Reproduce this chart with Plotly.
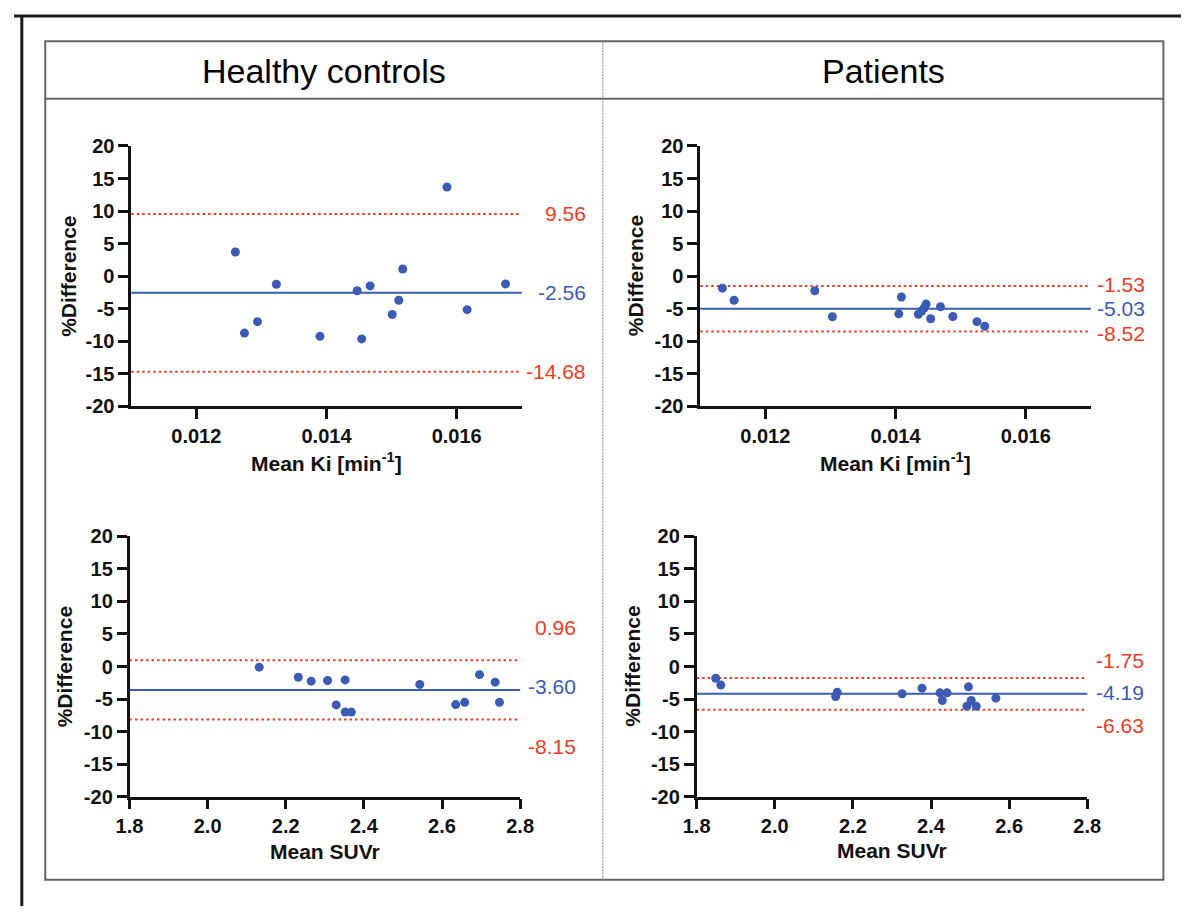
import plotly.graph_objects as go

# ---------------- data ----------------
# Healthy controls, Ki
hc_ki_x = [0.01260, 0.01274, 0.01294, 0.01323, 0.01390, 0.01447, 0.01454, 0.01467,
           0.01501, 0.01511, 0.01517, 0.01585, 0.01616, 0.01675]
hc_ki_y = [3.7, -8.75, -7.0, -1.25, -9.25, -2.25, -9.65, -1.5,
           -5.9, -3.7, 1.1, 13.7, -5.15, -1.2]
hc_ki_stats = [9.56, -2.56, -14.68]          # upper LoA, mean, lower LoA

# Patients, Ki
pt_ki_x = [0.01134, 0.01152, 0.01276, 0.01303, 0.01405, 0.01409, 0.01435, 0.01440,
           0.01444, 0.01447, 0.01454, 0.01469, 0.01488, 0.01525, 0.01537]
pt_ki_y = [-1.85, -3.7, -2.25, -6.25, -5.8, -3.2, -5.85, -5.35,
           -4.9, -4.3, -6.55, -4.7, -6.2, -7.0, -7.7]
pt_ki_stats = [-1.53, -5.03, -8.52]

# Healthy controls, SUVr
hc_suvr_x = [2.132, 2.232, 2.265, 2.307, 2.352, 2.329, 2.352, 2.368,
             2.543, 2.635, 2.658, 2.696, 2.736, 2.747]
hc_suvr_y = [-0.1, -1.65, -2.25, -2.15, -2.05, -5.9, -7.0, -7.0,
             -2.75, -5.85, -5.5, -1.25, -2.4, -5.5]
hc_suvr_stats = [0.96, -3.60, -8.15]

# Patients, SUVr
pt_suvr_x = [1.849, 1.862, 2.160, 2.156, 2.326, 2.377, 2.423, 2.429,
             2.441, 2.496, 2.492, 2.503, 2.516, 2.566]
pt_suvr_y = [-1.8, -2.85, -3.95, -4.6, -4.19, -3.32, -4.04, -5.22,
             -4.04, -3.12, -6.11, -5.22, -6.11, -4.86]
pt_suvr_stats = [-1.75, -4.19, -6.63]

ki_range = [0.011, 0.017]
ki_ticks = [0.012, 0.014, 0.016]
ki_ticklabels = ["0.012", "0.014", "0.016"]
suvr_range = [1.8, 2.8]
suvr_ticks = [1.8, 2.0, 2.2, 2.4, 2.6, 2.8]
suvr_ticklabels = ["1.8", "2.0", "2.2", "2.4", "2.6", "2.8"]
y_range = [-20, 20]
y_ticks = [-20, -15, -10, -5, 0, 5, 10, 15, 20]
y_ticklabels = ["-20", "-15", "-10", "-5", "0", "5", "10", "15", "20"]

group_titles = ["Healthy controls", "Patients"]
y_title = "%Difference"
ki_title = "Mean Ki [min<sup>-1</sup>]"
suvr_title = "Mean SUVr"

# ---------------- styling / layout ----------------
W, H = 1195, 917
BLUE = "#3B5BB5"
RED = "#EE3B24"
AXC = "#111111"
FONT = "Liberation Sans"

def px(x):
    return x / W

def py(y):
    return 1 - y / H

panels = [
    dict(x=hc_ki_x, y=hc_ki_y, stats=hc_ki_stats, xr=ki_range, xt=ki_ticks, xtt=ki_ticklabels,
         xtitle=ki_title, dx=(120, 520), dy=(138.3, 405), lab_r=587, shifts=(0, 0, 0),
         ytx=55, xty=462),
    dict(x=pt_ki_x, y=pt_ki_y, stats=pt_ki_stats, xr=ki_range, xt=ki_ticks, xtt=ki_ticklabels,
         xtitle=ki_title, dx=(702.7, 1102.7), dy=(138.3, 405), lab_r=1159, shifts=(2, 0, -2),
         ytx=636, xty=462),
    dict(x=hc_suvr_x, y=hc_suvr_y, stats=hc_suvr_stats, xr=suvr_range, xt=suvr_ticks,
         xtt=suvr_ticklabels, xtitle=suvr_title, dx=(118.3, 518.3), dy=(538.3, 805),
         lab_r=577, shifts=(33, 3, -27), ytx=52, xty=861),
    dict(x=pt_suvr_x, y=pt_suvr_y, stats=pt_suvr_stats, xr=suvr_range, xt=suvr_ticks,
         xtt=suvr_ticklabels, xtitle=suvr_title, dx=(699, 1099), dy=(538.3, 805),
         lab_r=1158, shifts=(17, 1, -16), ytx=633, xty=860),
]

fig = go.Figure()
annotations = []
shapes = []
layout_axes = {}

for i, p in enumerate(panels, start=1):
    xa = "x" if i == 1 else f"x{i}"
    ya = "y" if i == 1 else f"y{i}"
    xkey = "xaxis" if i == 1 else f"xaxis{i}"
    ykey = "yaxis" if i == 1 else f"yaxis{i}"

    fig.add_trace(go.Scatter(
        x=p["x"], y=p["y"], mode="markers", xaxis=xa, yaxis=ya,
        marker=dict(color=BLUE, size=9, line=dict(width=0)),
        showlegend=False, hoverinfo="skip"))

    axis_common = dict(showline=True, linecolor=AXC, linewidth=2.5, ticks="outside",
                       tickcolor=AXC, tickwidth=2.5, ticklen=10, showgrid=False,
                       zeroline=False, fixedrange=True,
                       tickfont=dict(family=FONT, size=20, color=AXC, weight="bold"))
    layout_axes[xkey] = dict(axis_common, domain=[px(p["dx"][0]), px(p["dx"][1])],
                             range=p["xr"], tickmode="array", tickvals=p["xt"],
                             ticktext=p["xtt"], anchor=ya)
    layout_axes[ykey] = dict(axis_common, domain=[py(p["dy"][1]), py(p["dy"][0])],
                             range=y_range, tickmode="array", tickvals=y_ticks,
                             ticktext=y_ticklabels, anchor=xa)

    upper, mean, lower = p["stats"]
    xdom = f"{xa} domain"
    for val, col, dash in [(upper, RED, "2.5px,3px"), (mean, BLUE, None), (lower, RED, "2.5px,3px")]:
        line = dict(color=col, width=2)
        if dash:
            line["dash"] = dash
        shapes.append(dict(type="line", xref=xdom, yref=ya, x0=0, x1=1, y0=val, y1=val,
                           line=line, layer="below"))
    lab_x = (p["lab_r"] - p["dx"][0]) / (p["dx"][1] - p["dx"][0])
    for val, col, sh in [(upper, RED, p["shifts"][0]), (mean, BLUE, p["shifts"][1]),
                         (lower, RED, p["shifts"][2])]:
        annotations.append(dict(text=f"{val:.2f}", xref=xdom, yref=ya, x=lab_x, y=val,
                                xanchor="right", yanchor="middle", yshift=sh, showarrow=False,
                                borderpad=0,
                                font=dict(family=FONT, size=21, color=col)))

    # axis titles
    annotations.append(dict(text=f"<b>{p['xtitle']}</b>", xref="paper", yref="paper",
                            x=px((p["dx"][0] + p["dx"][1]) / 2), y=py(p["xty"]),
                            xanchor="center", yanchor="middle", showarrow=False,
                            font=dict(family=FONT, size=21, color=AXC)))
    annotations.append(dict(text=f"<b>{y_title}</b>", xref="paper", yref="paper",
                            x=px(p["ytx"]), y=py((p["dy"][0] + p["dy"][1]) / 2),
                            xanchor="center", yanchor="middle", textangle=-90, showarrow=False,
                            font=dict(family=FONT, size=21, color=AXC)))

# header titles
for t, cx in zip(group_titles, [317.5, 890]):
    annotations.append(dict(text=t, xref="paper", yref="paper", x=px(cx), y=py(61),
                            xanchor="center", yanchor="middle", showarrow=False,
                            font=dict(family=FONT, size=34, color="#000")))

GRAY = "#666666"
# table frame
shapes += [
    dict(type="rect", xref="paper", yref="paper", x0=px(32), x1=px(1177), y0=py(890), y1=py(31),
         line=dict(color=GRAY, width=2), layer="below"),
    dict(type="line", xref="paper", yref="paper", x0=px(32), x1=px(1177), y0=py(90), y1=py(90),
         line=dict(color=GRAY, width=2), layer="below"),
    dict(type="line", xref="paper", yref="paper", x0=px(603), x1=px(603), y0=py(31), y1=py(890),
         line=dict(color="#808080", width=1, dash="2px,1px"), layer="below"),
    # outer black frame
    dict(type="line", xref="paper", yref="paper", x0=0, x1=1, y0=py(5), y1=py(5),
         line=dict(color="#1a1a1a", width=3)),
    dict(type="line", xref="paper", yref="paper", x0=px(8), x1=px(8), y0=py(5), y1=0,
         line=dict(color="#1a1a1a", width=3)),
]

fig.update_layout(width=W, height=H, margin=dict(l=0, r=0, t=0, b=0),
                  paper_bgcolor="white", plot_bgcolor="white",
                  annotations=annotations, shapes=shapes, showlegend=False,
                  **layout_axes)

fig.write_html("out.html", config={"displayModeBar": False},
               post_script="document.body.style.margin='0';document.body.style.overflow='hidden';")
